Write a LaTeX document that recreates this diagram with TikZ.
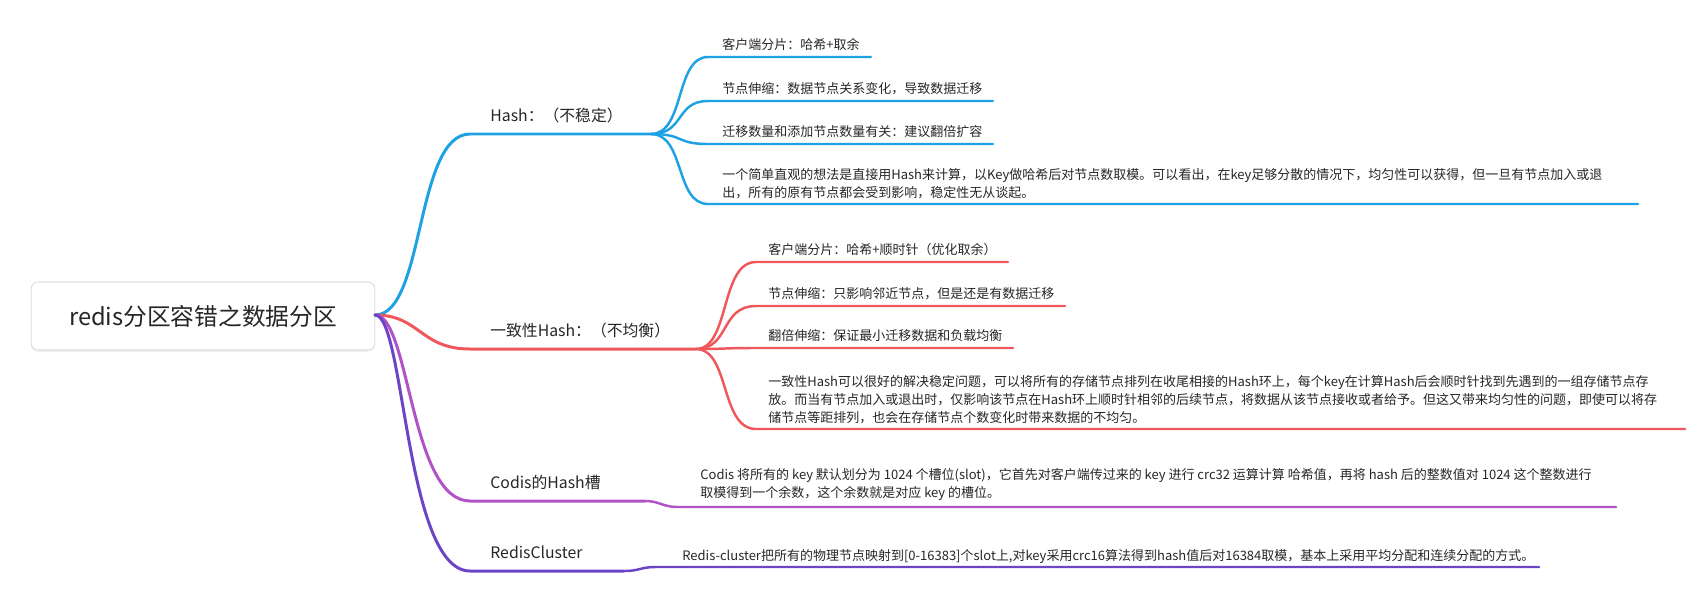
\documentclass[tikz,border=0pt]{standalone}
\usepackage{fontspec}
\setmainfont{Noto Sans CJK SC}
\usetikzlibrary{positioning, shadows}

\definecolor{hashblue}{HTML}{1EA2E3}
\definecolor{conred}{HTML}{F0575A}
\definecolor{codispurple}{HTML}{B152C6}
\definecolor{clusterviolet}{HTML}{6B45C6}

\tikzset{
  root/.style={draw=black!12, rounded corners=4pt, fill=white, line width=0.6pt,
    minimum width=6.88cm, minimum height=1.36cm, font=\fontsize{13.5}{16}\selectfont,
    text=black!85, drop shadow={opacity=0.12, shadow xshift=0pt, shadow yshift=-1pt}},
  branch/.style={anchor=base west, inner sep=0pt, font=\fontsize{9}{11}\selectfont, text=black!85},
  leaf/.style={anchor=base west, inner sep=0pt, font=\fontsize{7.4}{10.2}\selectfont, text=black!85},
  longleaf/.style={anchor=south west, inner sep=0pt, align=left, font=\fontsize{7.4}{10.2}\selectfont, text=black!85},
  bline/.style={line width=1.7pt, line cap=round},
  lline/.style={line width=1.4pt, line cap=round}
}

\begin{document}
\begin{tikzpicture}[x=0.02cm, y=-0.02cm]
\useasboundingbox (0,0) rectangle (1707,599);

% Root
\node[root] (root) at (203,316) {redis分区容错之数据分区};
\coordinate (rootR) at (375,315);

% Hash (unstable)
\coordinate (hashL) at (470,134);
\coordinate (hashR) at (651,134);
\node[branch] (hash) at (490,121) {Hash：（不稳定）};
\draw[hashblue, bline] (rootR) .. controls (425,315) and (415,134) .. (hashL) -- (hashR);

\foreach \name/\y/\xend in {h1/57/871, h2/101/993, h3/144/993, h4/204/1638}
{
    \coordinate (\name L) at (708,\y);
    \coordinate (\name R) at (\xend,\y);
    \draw[hashblue, lline] (hashR) .. controls (685,134) and (675,\y) .. (\name L) -- (\name R);
}
\node[leaf] (h1t) at (722,49) {客户端分片：哈希+取余};
\node[leaf] (h2t) at (722,93) {节点伸缩：数据节点关系变化，导致数据迁移};
\node[leaf] (h3t) at (722,136) {迁移数量和添加节点数量有关：建议翻倍扩容};
\node[longleaf] (h4t) at (722,199) {一个简单直观的想法是直接用Hash来计算，以Key做哈希后对节点数取模。可以看出，在key足够分散的情况下，均匀性可以获得，但一旦有节点加入或退\\出，所有的原有节点都会受到影响，稳定性无从谈起。};

% Consistent hash (unbalanced)
\coordinate (conL) at (470,349);
\coordinate (conR) at (696,349);
\node[branch] (con) at (490,336) {一致性Hash：（不均衡）};
\draw[conred, bline] (rootR) .. controls (420,315) and (420,349) .. (conL) -- (conR);

\foreach \name/\y/\xend in {c1/262/1008, c2/306/1065, c3/348/1013, c4/429/1685}
{
    \coordinate (\name L) at (756,\y);
    \coordinate (\name R) at (\xend,\y);
    \draw[conred, lline] (conR) .. controls (730,349) and (720,\y) .. (\name L) -- (\name R);
}
\node[leaf] (c1t) at (768,254) {客户端分片：哈希+顺时针（优化取余）};
\node[leaf] (c2t) at (768,298) {节点伸缩：只影响邻近节点，但是还是有数据迁移};
\node[leaf] (c3t) at (768,340) {翻倍伸缩：保证最小迁移数据和负载均衡};
\node[longleaf] (c4t) at (768,424) {一致性Hash可以很好的解决稳定问题，可以将所有的存储节点排列在收尾相接的Hash环上，每个key在计算Hash后会顺时针找到先遇到的一组存储节点存\\放。而当有节点加入或退出时，仅影响该节点在Hash环上顺时针相邻的后续节点，将数据从该节点接收或者给予。但这又带来均匀性的问题，即使可以将存\\储节点等距排列，也会在存储节点个数变化时带来数据的不均匀。};

% Codis hash slot
\coordinate (codL) at (470,501);
\coordinate (codR) at (645,501);
\node[branch] (cod) at (490,488) {Codis的Hash槽};
\draw[codispurple, bline] (rootR) .. controls (410,315) and (410,501) .. (codL) -- (codR);
\coordinate (d1L) at (678,507);
\coordinate (d1R) at (1616,507);
\draw[codispurple, lline] (codR) .. controls (660,501) and (662,507) .. (d1L) -- (d1R);
\node[longleaf] (d1t) at (700,501) {Codis 将所有的 key 默认划分为 1024 个槽位(slot)，它首先对客户端传过来的 key 进行 crc32 运算计算 哈希值，再将 hash 后的整数值对 1024 这个整数进行\\取模得到一个余数，这个余数就是对应 key 的槽位。};

% Redis cluster
\coordinate (rcL) at (470,571);
\coordinate (rcR) at (624,571);
\node[branch] (rc) at (490,558) {RedisCluster};
\draw[clusterviolet, bline] (rootR) .. controls (405,315) and (405,571) .. (rcL) -- (rcR);
\coordinate (r1L) at (656,567);
\coordinate (r1R) at (1539,567);
\draw[clusterviolet, lline] (rcR) .. controls (640,571) and (640,567) .. (r1L) -- (r1R);
\node[leaf] (r1t) at (682,560) {Redis-cluster把所有的物理节点映射到[0-16383]个slot上,对key采用crc16算法得到hash值后对16384取模，基本上采用平均分配和连续分配的方式。};

\end{tikzpicture}
\end{document}
